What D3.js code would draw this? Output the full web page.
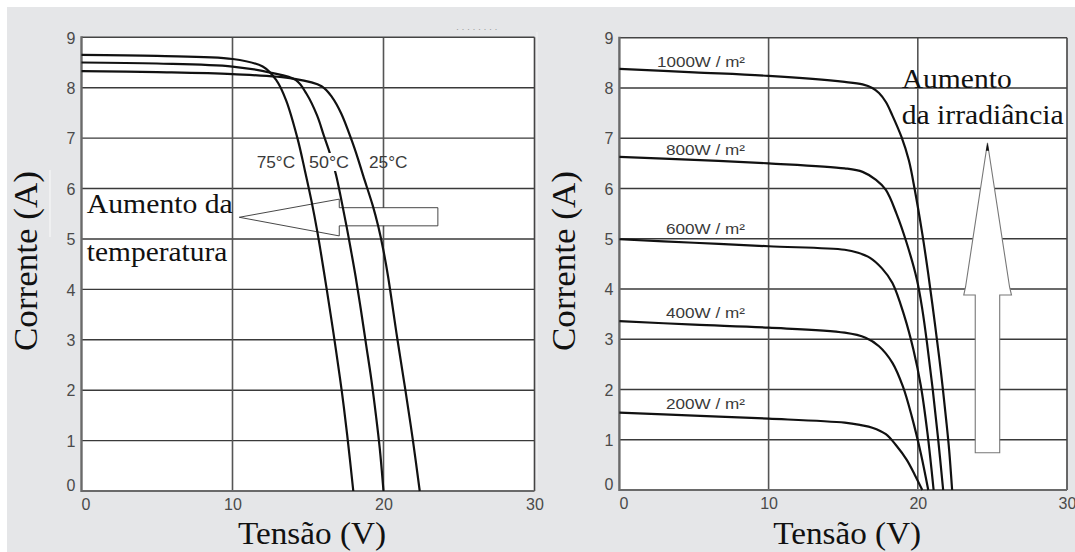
<!DOCTYPE html>
<html>
<head>
<meta charset="utf-8">
<script src="https://cdn.jsdelivr.net/npm/d3@7"></script>
<style>
html,body{margin:0;padding:0;background:#fff;}
svg{display:block;}
</style>
</head>
<body>
<svg id="chart" width="1075" height="552"></svg>
<script>
// ---------- DATA ----------
const xTicks = [0, 10, 20, 30];
const yTicks = [0, 1, 2, 3, 4, 5, 6, 7, 8, 9];

// Left panel: temperature curves (V, A)
const tempLabels = ["75°C", "50°C", "25°C"];
const V75 = [0, 5, 10, 12, 12.9, 13.55, 14.3, 14.8, 15.24, 15.62, 16.05, 16.5, 16.85, 17.25, 17.6, 18.0];
const I75 = [8.65, 8.63, 8.57, 8.42, 8.15, 7.75, 7.0, 6.35, 5.74, 5.14, 4.36, 3.5, 2.8, 1.95, 1.1, 0];
const V50 = [0, 5, 10, 12.5, 14.2, 14.9, 15.6, 16.05, 16.45, 16.85, 17.23, 17.56, 17.83, 18.15, 18.5, 18.85, 19.2, 19.5, 19.75, 20.0];
const I50 = [8.5, 8.48, 8.42, 8.3, 8.15, 7.88, 7.45, 7.05, 6.7, 6.28, 5.74, 5.24, 4.8, 4.26, 3.6, 2.9, 2.2, 1.5, 0.85, 0];
const V25 = [0, 5, 10, 14, 15.9, 16.6, 17.2, 17.89, 18.3, 18.66, 19.28, 19.66, 19.99, 20.3, 20.9, 21.45, 21.95, 22.4];
const I25 = [8.33, 8.31, 8.27, 8.18, 8.03, 7.81, 7.49, 6.96, 6.6, 6.25, 5.67, 5.24, 4.78, 4.26, 3.05, 2.0, 1.0, 0];

// Right panel: irradiance curves (V, A)
const irrLabels = ["1000W / m²", "800W / m²", "600W / m²", "400W / m²", "200W / m²"];
const V1000 = [0, 5, 10, 15.1, 16.3, 16.95, 17.4, 17.86, 18.3, 18.9, 19.4, 19.8, 20.3, 20.7, 21.15, 21.55, 21.9, 22.1, 22.3];
const I1000 = [8.38, 8.31, 8.24, 8.12, 8.07, 8.0, 7.9, 7.72, 7.45, 7.03, 6.56, 5.97, 5.1, 4.3, 3.3, 2.35, 1.4, 0.8, 0];
const V800 = [0, 5, 10, 15.1, 16.3, 17.2, 17.86, 18.57, 19.26, 19.93, 20.3, 20.65, 21.0, 21.35, 21.7];
const I800 = [6.63, 6.57, 6.5, 6.4, 6.33, 6.17, 5.97, 5.5, 4.91, 4.2, 3.6, 2.85, 2.0, 1.05, 0];
const V600 = [0, 5, 10, 15.1, 16.0, 16.8, 17.6, 18.3, 19.1, 19.7, 20.2, 20.64, 21.06];
const I600 = [4.99, 4.92, 4.85, 4.78, 4.72, 4.62, 4.41, 4.12, 3.46, 2.8, 2.08, 1.15, 0];
const V400 = [0, 5, 10, 15.1, 16.5, 17.4, 18.3, 19.0, 19.6, 20.2, 20.7];
const I400 = [3.36, 3.29, 3.23, 3.13, 3.03, 2.86, 2.53, 2.06, 1.46, 0.73, 0];
const V200 = [0, 5, 10, 15.1, 16.2, 16.95, 17.86, 18.57, 19.26, 19.8, 20.3];
const I200 = [1.54, 1.48, 1.42, 1.34, 1.29, 1.24, 1.11, 0.88, 0.6, 0.3, 0];

// Annotations in data units
const arrowLeftV = [10.45, 17.07, 17.07, 23.6, 23.6, 17.07, 17.07];
const arrowLeftI = [5.43, 5.79, 5.62, 5.62, 5.26, 5.26, 5.06];
const arrowRightV = [24.67, 26.15, 26.28, 25.49, 25.49, 23.85, 23.85, 23.08, 23.2];
const arrowRightI = [6.91, 4.04, 3.88, 3.88, 0.74, 0.74, 3.88, 3.88, 4.04];

// ---------- DRAW ----------
const svg = d3.select("#chart");
svg.append("rect").attr("x", 7).attr("y", 7).attr("width", 1068).attr("height", 545).attr("fill", "#e5e6e8");

const serif = "'Liberation Serif','Times New Roman',serif";
const sans = "'Liberation Sans',Arial,sans-serif";

function panel(x, y) {
  const g = svg.append("g");
  const [x0, x1] = x.range();
  const [y0, y1] = y.range();
  g.append("rect").attr("x", x0).attr("y", y1).attr("width", x1 - x0).attr("height", y0 - y1).attr("fill", "#fff");
  g.selectAll(".hg").data(yTicks.filter(d => d > 0 && d < 9)).join("line")
    .attr("x1", x0).attr("x2", x1).attr("y1", d => y(d)).attr("y2", d => y(d))
    .attr("stroke", "#3a3a3a").attr("stroke-width", 1.4);
  g.selectAll(".vg").data(xTicks.filter(d => d > 0 && d < 30)).join("line")
    .attr("x1", d => x(d)).attr("x2", d => x(d)).attr("y1", y1).attr("y2", y0)
    .attr("stroke", "#555").attr("stroke-width", 1.6);
  g.append("line").attr("x1", x0).attr("x2", x1).attr("y1", y1).attr("y2", y1).attr("stroke", "#444").attr("stroke-width", 1.6);
  g.append("line").attr("x1", x1).attr("x2", x1).attr("y1", y1).attr("y2", y0).attr("stroke", "#444").attr("stroke-width", 1.6);
  g.append("line").attr("x1", x0).attr("x2", x1).attr("y1", y0).attr("y2", y0).attr("stroke", "#6a6a6a").attr("stroke-width", 2.2);
  g.append("line").attr("x1", x0).attr("x2", x0).attr("y1", y1 - 1).attr("y2", y0 + 1).attr("stroke", "#6a6a6a").attr("stroke-width", 2.4);

  const ax = g.append("g").attr("transform", `translate(0,${y0})`)
    .call(d3.axisBottom(x).tickValues(xTicks).tickSize(0).tickPadding(8));
  ax.select(".domain").remove();
  ax.selectAll("text").attr("font-family", sans).attr("font-size", 16).attr("fill", "#4a4a4a")
    .attr("dx", d => d === 0 ? 4 : 0);
  const ay = g.append("g").attr("transform", `translate(${x0},0)`)
    .call(d3.axisLeft(y).tickValues(yTicks).tickSize(0).tickPadding(6));
  ay.select(".domain").remove();
  ay.selectAll("text").attr("font-family", sans).attr("font-size", 16).attr("fill", "#4a4a4a")
    .attr("dy", d => d === 0 ? "-0.05em" : "0.36em");

  svg.append("text").attr("font-family", serif).attr("font-size", 31).attr("fill", "#111")
    .attr("text-anchor", "middle").attr("x", (x0 + x1) / 2 + 4).attr("y", 543.5)
    .attr("textLength", 148).attr("lengthAdjust", "spacingAndGlyphs")
    .text("Tensão (V)");
  svg.append("text").attr("font-family", serif).attr("font-size", 33).attr("fill", "#111")
    .attr("text-anchor", "middle")
    .attr("transform", `translate(${x0 - 44.5},261) rotate(-90)`)
    .attr("textLength", 180).attr("lengthAdjust", "spacingAndGlyphs")
    .text("Corrente (A)");
  return g;
}

const xL = d3.scaleLinear().domain([0, 30]).range([81.5, 534.5]);
const yL = d3.scaleLinear().domain([0, 9]).range([491, 37.3]);
const xR = d3.scaleLinear().domain([0, 30]).range([619.4, 1067]);
const yR = d3.scaleLinear().domain([0, 9]).range([490, 37.7]);

const gL = panel(xL, yL);
const gR = panel(xR, yR);

svg.append("line").attr("x1", 50).attr("x2", 50).attr("y1", 170).attr("y2", 237).attr("stroke", "#fafafa").attr("stroke-width", 1);
svg.append("line").attr("x1", 537).attr("x2", 537).attr("y1", 32).attr("y2", 480).attr("stroke", "#f2f2f2").attr("stroke-width", 1);
svg.append("text").attr("x", 456).attr("y", 32).attr("font-family", sans).attr("font-size", 9).attr("fill", "#999")
  .text("·   · · · · · · ·");

gL.append("polygon")
  .attr("points", arrowLeftV.map((v, i) => [xL(v), yL(arrowLeftI[i])].join(",")).join(" "))
  .attr("fill", "#fff").attr("stroke", "#333").attr("stroke-width", 0.9);

gR.append("polygon")
  .attr("points", arrowRightV.map((v, i) => [xR(v), yR(arrowRightI[i])].join(",")).join(" "))
  .attr("fill", "#fff").attr("stroke", "#777").attr("stroke-width", 1.1);
gR.append("polygon")
  .attr("points", [[xR(arrowRightV[0]), yR(arrowRightI[0])], [xR(arrowRightV[0]) + 1.6, yR(arrowRightI[0]) + 8], [xR(arrowRightV[0]) - 1.6, yR(arrowRightI[0]) + 8]].map(p => p.join(",")).join(" "))
  .attr("fill", "#111");

function curve(g, x, y, V, I) {
  const line = d3.line().x(d => x(d[0])).y(d => y(d[1])).curve(d3.curveCatmullRom.alpha(0.5));
  g.append("path").datum(V.map((v, i) => [v, I[i]])).attr("d", line)
    .attr("fill", "none").attr("stroke", "#111").attr("stroke-width", 2.2).attr("stroke-linejoin", "round");
}
[[V75, I75], [V50, I50], [V25, I25]].forEach(([V, I]) => curve(gL, xL, yL, V, I));
[[V1000, I1000], [V800, I800], [V600, I600], [V400, I400], [V200, I200]].forEach(([V, I]) => curve(gR, xR, yR, V, I));

const tempPos = [[256.7, 38.5], [309, 40], [369, 38.5]];
tempLabels.forEach((t, i) => {
  if (i === 1) gL.append("rect").attr("x", tempPos[i][0] - 1).attr("y", 153).attr("width", tempPos[i][1] + 2).attr("height", 18).attr("fill", "#fff");
  gL.append("text").attr("x", tempPos[i][0]).attr("y", 168).attr("font-family", sans).attr("font-size", 16)
    .attr("fill", "#3a3a3a").attr("textLength", tempPos[i][1]).attr("lengthAdjust", "spacingAndGlyphs").text(t);
});

const irrBase = [66.7, 155, 234, 317.7, 409.3];
irrLabels.forEach((t, i) => {
  gR.append("text").attr("x", 745).attr("y", irrBase[i]).attr("text-anchor", "end")
    .attr("font-family", sans).attr("font-size", 15).attr("fill", "#3a3a3a")
    .attr("textLength", i === 0 ? 88 : 79).attr("lengthAdjust", "spacingAndGlyphs").text(t);
});

function note(g, txt, x, y, len) {
  g.append("text").attr("x", x).attr("y", y).attr("font-family", serif).attr("font-size", 28).attr("fill", "#111")
    .attr("textLength", len).attr("lengthAdjust", "spacingAndGlyphs").text(txt);
}
note(gL, "Aumento da", 86.8, 212.5, 146);
note(gL, "temperatura", 86.8, 261, 140.5);
note(gR, "Aumento", 901.7, 87.5, 110);
note(gR, "da irradiância", 901.7, 124, 162);
</script>
</body>
</html>
